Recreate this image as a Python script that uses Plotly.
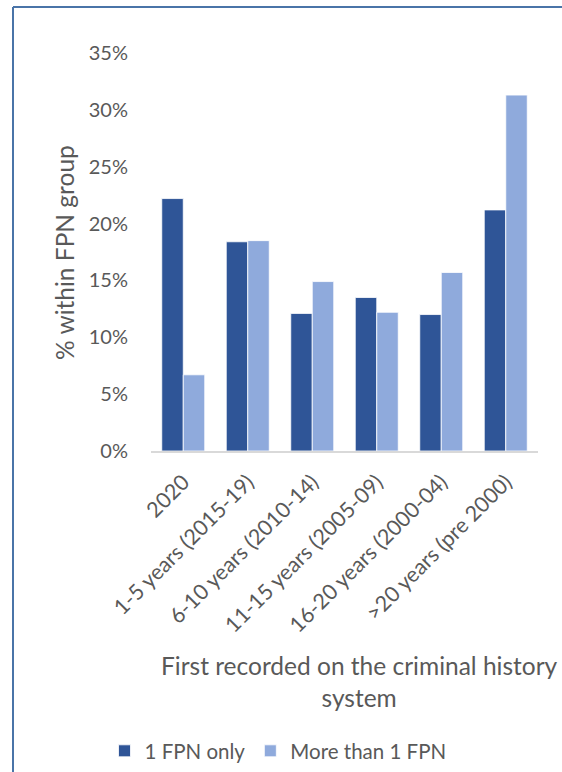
import plotly.graph_objects as go

categories = ["2020", "1-5 years (2015-19)", "6-10 years (2010-14)",
              "11-15 years (2005-09)", "16-20 years (2000-04)", ">20 years (pre 2000)"]
one_fpn = [0.222, 0.184, 0.121, 0.135, 0.120, 0.212]
more_fpn = [0.067, 0.185, 0.149, 0.122, 0.157, 0.313]
series_names = ["1 FPN only", "More than 1 FPN"]
colors = ["#2F5597", "#8FAADC"]

FONT = "Lato"
TXT = "#595959"

W, H = 562, 772
L, R, T, B = 151, 24, 53, 321
pw, ph = W - L - R, H - T - B

def px(x):
    return (x - L) / pw

def py(y):
    return (H - B - y) / ph

fig = go.Figure()
for name, vals, c in zip(series_names, [one_fpn, more_fpn], colors):
    fig.add_trace(go.Bar(x=categories, y=vals, name=name,
                         marker=dict(color=c, line=dict(color="white", width=0.8))))

fig.update_layout(
    width=W, height=H,
    margin=dict(l=L, r=R, t=T, b=B, autoexpand=False),
    paper_bgcolor="white", plot_bgcolor="white",
    barmode="group", bargap=1/3, bargroupgap=0,
    font=dict(family=FONT, color=TXT, size=20),
    showlegend=True,
    legend=dict(orientation="h", xref="container", yref="container",
                x=(278) / W, xanchor="center", y=1 - 751 / H, yanchor="middle",
                font=dict(size=20.5, color=TXT), itemwidth=30, traceorder="normal"),
    xaxis=dict(showgrid=False, showline=True, linecolor="#D9D9D9", linewidth=2,
               tickangle=-45, tickfont=dict(size=21.5, color=TXT), ticks="",
               ticklabelstandoff=8, automargin=False),
    yaxis=dict(range=[0, 0.35], dtick=0.05, tickformat=".0%", showgrid=False,
               showline=False, zeroline=False, ticks="", ticklabelstandoff=22,
               tickfont=dict(size=20, color=TXT), automargin=False),
    annotations=[
        dict(text="First recorded on the criminal history<br>system", xref="paper", yref="paper",
             x=px(359), y=py(681), xanchor="center", yanchor="middle", showarrow=False,
             font=dict(size=24.5, color=TXT)),
        dict(text="% within FPN group", xref="paper", yref="paper", x=px(65), y=py(253),
             xanchor="center", yanchor="middle", textangle=-90, showarrow=False,
             font=dict(size=24.5, color=TXT)),
    ],
    shapes=[
        dict(type="line", xref="paper", yref="paper", x0=px(13), x1=px(13), y0=py(7), y1=py(800),
             line=dict(color="#4A74A8", width=2)),
        dict(type="line", xref="paper", yref="paper", x0=px(13), x1=px(600), y0=py(7), y1=py(7),
             line=dict(color="#4A74A8", width=2)),
    ],
)

fig.write_html("out.html")
